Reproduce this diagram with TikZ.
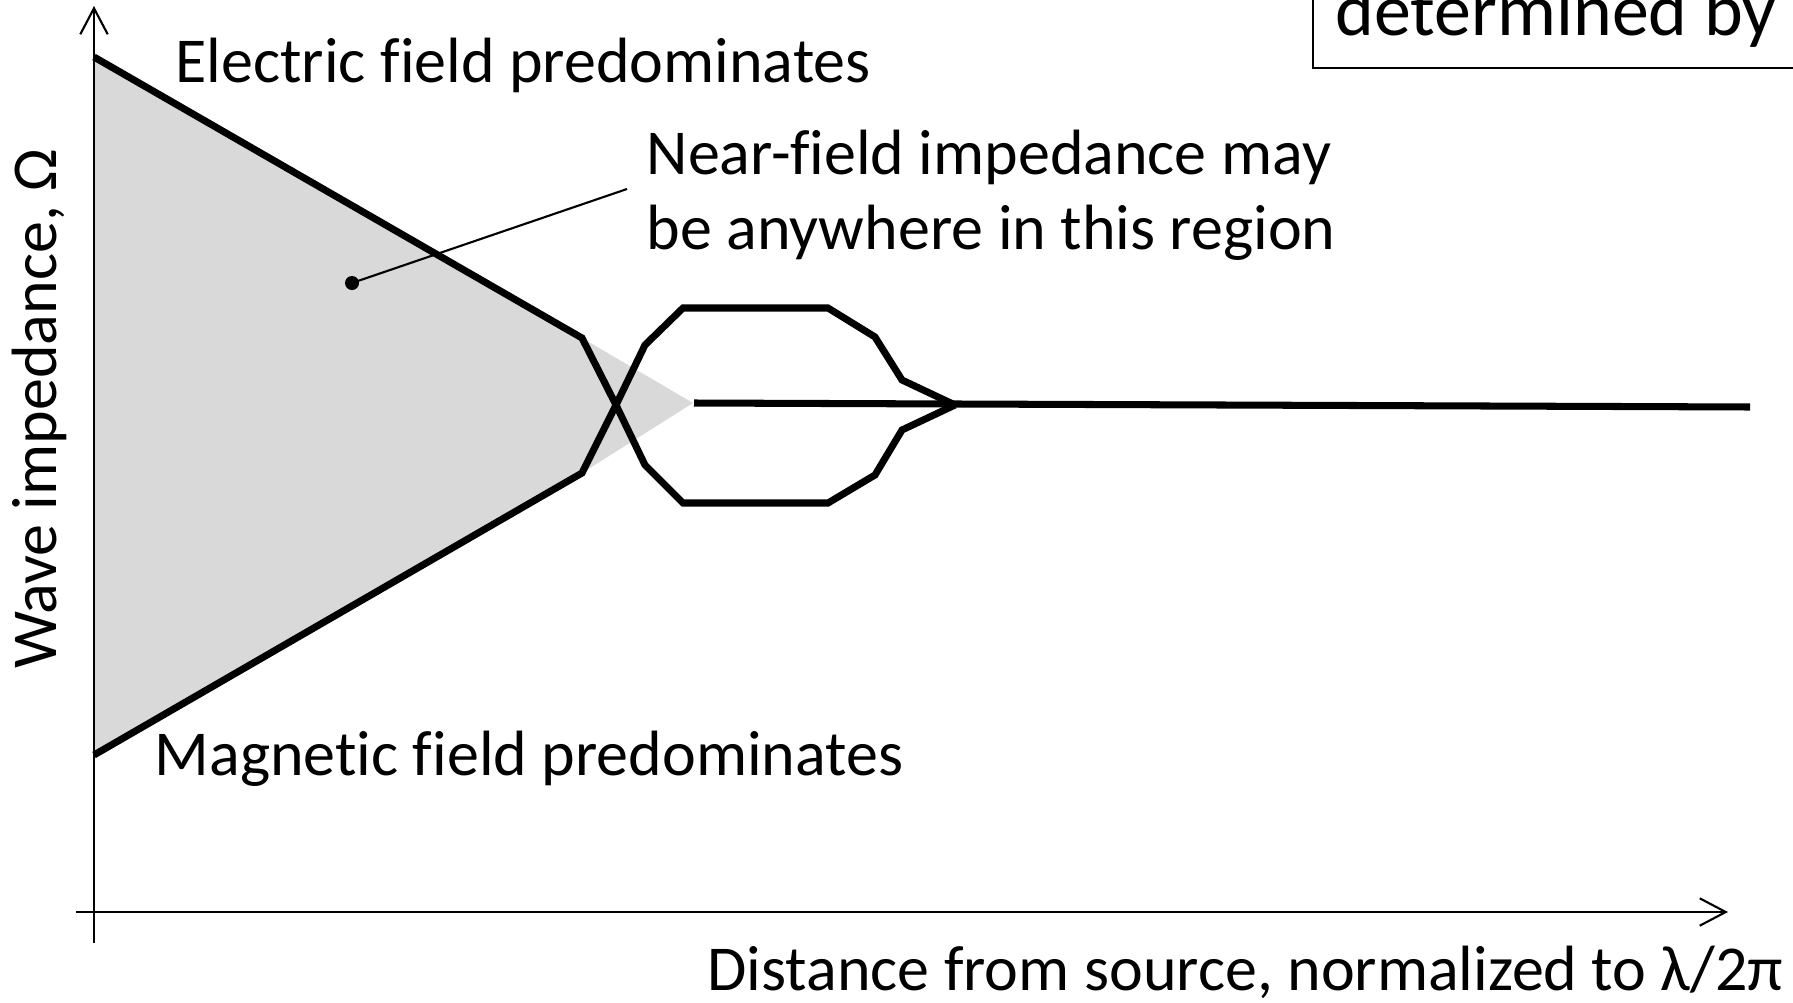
\documentclass[tikz,border=0pt]{standalone}
\usepackage{fontspec}
\setmainfont{Carlito}[Ligatures=NoCommon]
\usetikzlibrary{arrows.meta}
\begin{document}
\begin{tikzpicture}[x=0.01cm,y=-0.01cm,
  thickline/.style={line width=2pt, line join=miter},
  axisline/.style={line width=0.6pt, -{Straight Barb[length=7.4pt,width=7.8pt,line width=0.6pt]}},
  lbl/.style={inner sep=0pt, anchor=base west, font=\fontsize{18.2}{22}\selectfont}]
\useasboundingbox (0,0) rectangle (1793,1003);
% shaded region
\fill[black!15] (94,57) -- (582,338) -- (693,403) -- (582,473) -- (94,755) -- cycle;
% axes
\coordinate (yb) at (94,943);
\coordinate (yt) at (94,6);
\coordinate (xl) at (76,912);
\coordinate (xr) at (1728,912);
\draw[axisline] (yb) -- (yt);
\draw[axisline] (xl) -- (xr);
% curves
\coordinate (e0) at (94,57);
\coordinate (m0) at (94,755);
\coordinate (tip) at (955,405);
\draw[thickline] (e0) -- (582,338) -- (616,405) -- (645,465) -- (683,503) -- (828,503) -- (875,475) -- (902,430) -- (tip);
\draw[thickline] (m0) -- (582,473) -- (616,405) -- (645,345) -- (683,308) -- (828,308) -- (875,337) -- (902,380) -- (tip);
\coordinate (h0) at (694,403);
\coordinate (h1) at (1750,407);
\draw[thickline] (h0) -- (h1);
% annotation
\node[circle, fill, inner sep=0pt, minimum size=0.14cm] (dot) at (352,283) {};
\coordinate (lead) at (627,189);
\draw[line width=0.6pt] (dot.center) -- (lead);
% labels
\node[lbl] (elec) at (175,82) {Electric field predominates};
\node[lbl] (near1) at (646,174) {Near-field impedance may};
\node[lbl] (near2) at (646,249) {be anywhere in this region};
\node[lbl] (mag) at (154,775) {Magnetic field predominates};
\node[lbl, anchor=base east] (dist) at (1784,990) {Distance from source, normalized to λ/2π};
\node[lbl, anchor=base, rotate=90] (wave) at (57,409) {Wave impedance, Ω};
% box
\draw[line width=0.6pt] (1313,-10) -- (1313,68) -- (1800,68);
\node[lbl, font=\fontsize{21}{25}\selectfont] (det) at (1335,35) {determined by};
\end{tikzpicture}
\end{document}
